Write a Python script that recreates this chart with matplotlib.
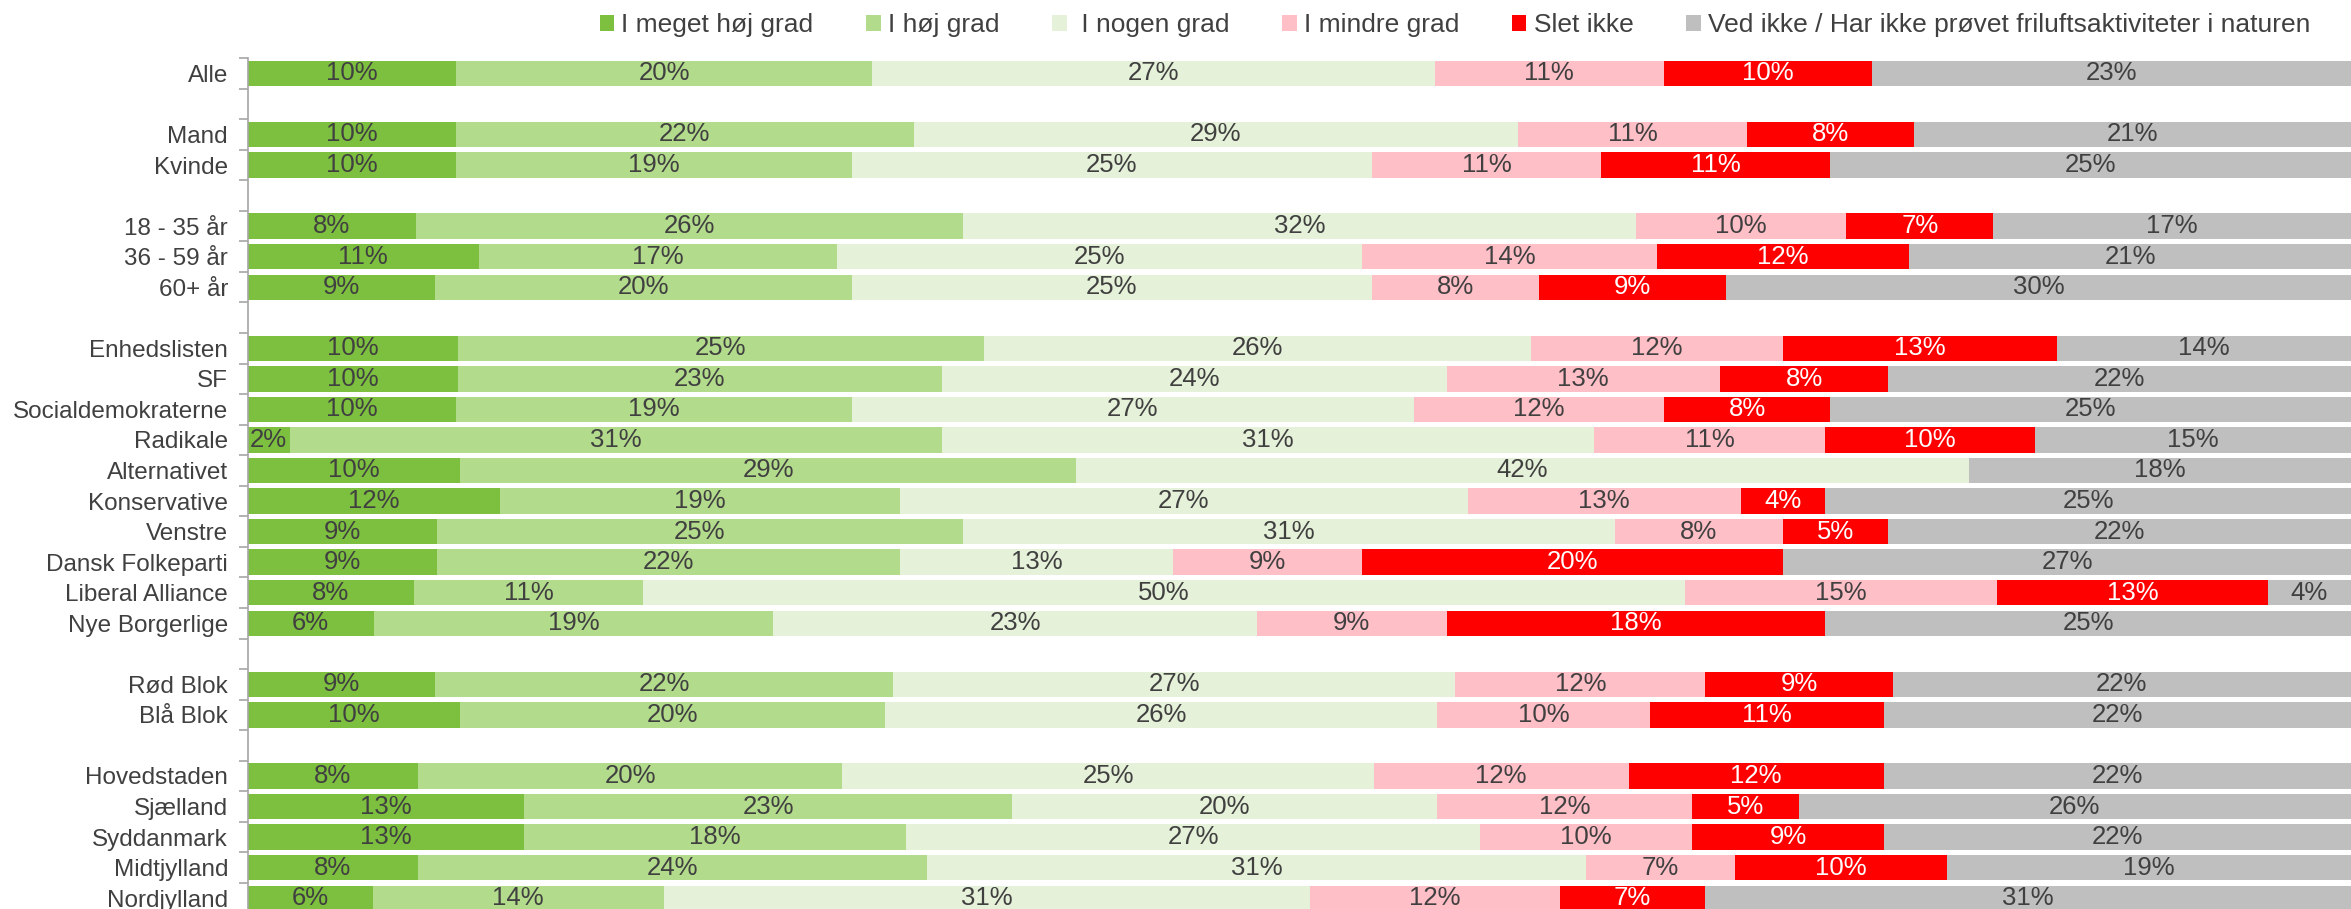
import numpy as np
import matplotlib.pyplot as plt

plt.rcParams['font.family'] = ['Liberation Sans', 'DejaVu Sans']

categories = ['Alle',
              'Mand', 'Kvinde',
              '18 - 35 år', '36 - 59 år', '60+ år',
              'Enhedslisten', 'SF', 'Socialdemokraterne', 'Radikale', 'Alternativet',
              'Konservative', 'Venstre', 'Dansk Folkeparti', 'Liberal Alliance', 'Nye Borgerlige',
              'Rød Blok', 'Blå Blok',
              'Hovedstaden', 'Sjælland', 'Syddanmark', 'Midtjylland', 'Nordjylland']
group_sizes = [1, 2, 3, 10, 2, 5]

series = ['I meget høj grad', 'I høj grad', ' I nogen grad', 'I mindre grad', 'Slet ikke',
          'Ved ikke / Har ikke prøvet friluftsaktiviteter i naturen']
colors = ['#7DC03F', '#B3DB8C', '#E5F1D8', '#FFBFC7', '#FF0000', '#BFBFBF']
text_colors = ['#404040', '#404040', '#404040', '#404040', 'white', '#404040']

meget_hoej = [10, 10, 10, 8, 11, 9, 10, 10, 10, 2, 10, 12, 9, 9, 8, 6, 9, 10, 8, 13, 13, 8, 6]
hoej = [20, 22, 19, 26, 17, 20, 25, 23, 19, 31, 29, 19, 25, 22, 11, 19, 22, 20, 20, 23, 18, 24, 14]
nogen = [27, 29, 25, 32, 25, 25, 26, 24, 27, 31, 42, 27, 31, 13, 50, 23, 27, 26, 25, 20, 27, 31, 31]
mindre = [11, 11, 11, 10, 14, 8, 12, 13, 12, 11, 0, 13, 8, 9, 15, 9, 12, 10, 12, 12, 10, 7, 12]
slet = [10, 8, 11, 7, 12, 9, 13, 8, 8, 10, 0, 4, 5, 20, 13, 18, 9, 11, 12, 5, 9, 10, 7]
ved_ikke = [23, 21, 25, 17, 21, 30, 14, 22, 25, 15, 18, 25, 22, 27, 4, 25, 22, 22, 22, 26, 22, 19, 31]

data = np.array([meget_hoej, hoej, nogen, mindre, slet, ved_ikke], dtype=float)
share = data / data.sum(axis=0) * 100

# row positions, one empty row between groups
ys = []
pos = 0
for size in group_sizes:
    ys.extend(range(pos, pos + size))
    pos += size + 1
ys = np.array(ys)
bottom = ys[-1] + 0.5

fig = plt.figure(figsize=(23.51, 9.09), dpi=100)
ax = fig.add_axes([0.1053, -0.0049, 0.8947, 0.9410])

left = np.zeros(len(categories))
for i in range(len(series)):
    bars = ax.barh(ys, share[i], left=left, height=0.83, color=colors[i], label=series[i])
    labels = [f'{int(v)}%' if v > 0 else '' for v in data[i]]
    ax.bar_label(bars, labels=labels, label_type='center', color=text_colors[i], fontsize=18.5)
    left += share[i]

ax.set_xlim(0, 100)
ax.set_ylim(bottom, -0.5)
ax.set_yticks(ys)
ax.set_yticklabels(categories, fontsize=17.5, color='#404040')
ax.set_yticks(np.arange(-0.5, bottom + 0.1, 1), minor=True)
ax.tick_params(axis='y', which='major', length=0, pad=14)
ax.tick_params(axis='y', which='minor', length=6.5, width=1.2, color='#A6A6A6')
ax.xaxis.set_visible(False)
for side in ['top', 'right', 'bottom']:
    ax.spines[side].set_visible(False)
ax.spines['left'].set_color('#A6A6A6')
ax.spines['left'].set_linewidth(1.2)

fig.legend(loc='center right', bbox_to_anchor=(0.9826, 0.9725), ncol=6, frameon=False,
           fontsize=19, handlelength=0.55, handleheight=0.55, handletextpad=0.27,
           columnspacing=2.0, borderpad=0, borderaxespad=0, labelcolor='#404040')

fig.savefig('out.png', dpi=100)
plt.close(fig)
